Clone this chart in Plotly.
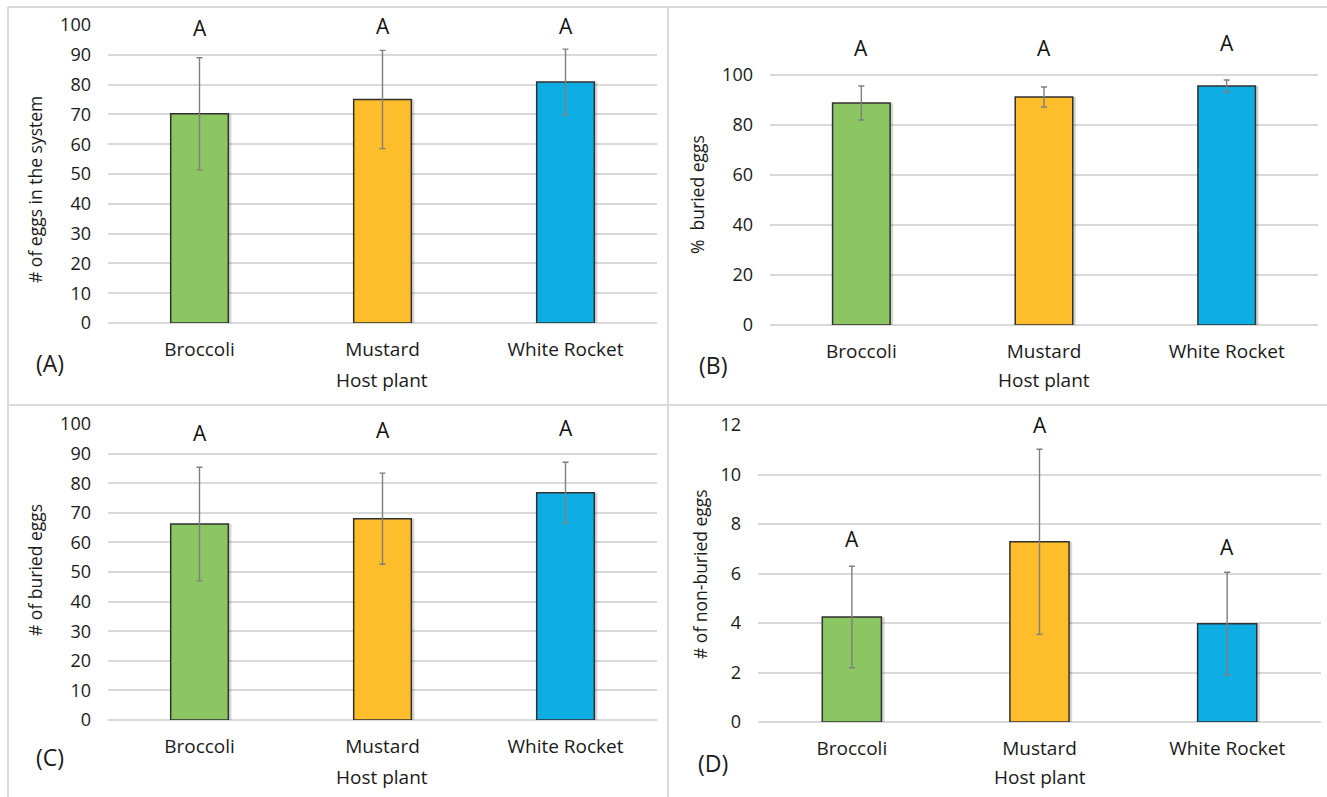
import plotly.graph_objects as go

W, H = 1327, 797

categories = ["Broccoli", "Mustard", "White Rocket"]
bar_colors = ["#8cc663", "#febd2a", "#0eaee4"]

eggs_total_mean = [70.2, 75.0, 80.9]
eggs_total_err = [18.8, 16.5, 11.0]
eggs_total_letters = ["A", "A", "A"]
eggs_total_letter_y = [99.0, 99.5, 99.8]

pct_buried_mean = [88.8, 91.2, 95.6]
pct_buried_err = [6.8, 4.0, 2.4]
pct_buried_letters = ["A", "A", "A"]
pct_buried_letter_y = [110.8, 110.8, 112.8]

buried_mean = [66.2, 68.0, 76.8]
buried_err = [19.2, 15.4, 10.3]
buried_letters = ["A", "A", "A"]
buried_letter_y = [97.0, 98.0, 98.6]

nonburied_mean = [4.24, 7.28, 3.97]
nonburied_err = [2.05, 3.74, 2.08]
nonburied_letters = ["A", "A", "A"]
nonburied_letter_y = [7.4, 12.0, 7.07]

FONT = "Open Sans"
TXT = "#1a1a1a"
BAR_W = 0.315


def px(x):
    return x / W


def py(y):
    return 1 - y / H


panels = [
    dict(n="", mean=eggs_total_mean, err=eggs_total_err, letters=eggs_total_letters,
         ly=eggs_total_letter_y, ymax=100, dtick=10, labelmax=100,
         ytitle="# of eggs in the system", tag="(A)",
         xd=(108, 657), yd=(323, 25), yt=(35, 190), tg=(50, 363), ht=380),
    dict(n="2", mean=pct_buried_mean, err=pct_buried_err, letters=pct_buried_letters,
         ly=pct_buried_letter_y, ymax=120, dtick=20, labelmax=100,
         ytitle="%  buried eggs", tag="(B)",
         xd=(770, 1318), yd=(325, 25), yt=(697, 195), tg=(713, 365), ht=380),
    dict(n="3", mean=buried_mean, err=buried_err, letters=buried_letters,
         ly=buried_letter_y, ymax=100, dtick=10, labelmax=100,
         ytitle="# of buried eggs", tag="(C)",
         xd=(108, 657), yd=(720, 424), yt=(35, 570), tg=(50, 757), ht=777),
    dict(n="4", mean=nonburied_mean, err=nonburied_err, letters=nonburied_letters,
         ly=nonburied_letter_y, ymax=12, dtick=2, labelmax=12,
         ytitle="# of non-buried eggs", tag="(D)",
         xd=(758, 1321), yd=(722, 425), yt=(700, 574), tg=(713, 763), ht=777),
]

fig = go.Figure()
layout = dict(
    width=W, height=H, margin=dict(l=0, r=0, t=0, b=0, pad=0, autoexpand=False),
    paper_bgcolor="white", plot_bgcolor="white", showlegend=False,
    font=dict(family=FONT, color=TXT), barmode="overlay",
)
annotations = []
shapes = []


def ann(x, y, text, size, xref="paper", yref="paper", angle=0, color=TXT):
    return dict(x=x, y=y, xref=xref, yref=yref, text=text, showarrow=False,
                xanchor="center", yanchor="middle", textangle=angle,
                font=dict(family=FONT, size=size, color=color))


for p in panels:
    n = p["n"]
    xa = "x" + n
    ya = "y" + n
    # soft shadow behind each bar
    fig.add_trace(go.Bar(
        x=categories, y=p["mean"], xaxis=xa, yaxis=ya,
        marker=dict(color="rgba(0,0,0,0.16)", line=dict(width=0)),
        width=BAR_W, offset=-BAR_W / 2 + 0.017, hoverinfo="skip",
    ))
    fig.add_trace(go.Bar(
        x=categories, y=p["mean"], xaxis=xa, yaxis=ya,
        marker=dict(color=bar_colors, line=dict(color="#303030", width=1.5)),
        error_y=dict(type="data", array=p["err"], color="#7f7f7f", thickness=1.4, width=3),
        width=BAR_W, offset=-BAR_W / 2,
    ))
    ticks = list(range(0, p["ymax"] + 1, p["dtick"]))
    ticktext = [str(t) if t <= p["labelmax"] else "" for t in ticks]
    layout["xaxis" + n] = dict(
        domain=[px(p["xd"][0]), px(p["xd"][1])], anchor=ya, automargin=False,
        range=[-0.5, 2.5], type="category", showgrid=False, showline=False,
        zeroline=False, ticks="", ticklabelstandoff=13,
        tickfont=dict(family=FONT, size=19, color=TXT), fixedrange=True,
    )
    layout["yaxis" + n] = dict(
        domain=[py(p["yd"][0]), py(p["yd"][1])], anchor=xa, automargin=False,
        range=[0, p["ymax"]], tickvals=ticks, ticktext=ticktext,
        showgrid=True, gridcolor="#d9d9d9", gridwidth=1.5,
        zeroline=True, zerolinecolor="#d9d9d9", zerolinewidth=1.5,
        showline=False, ticks="", ticklabelstandoff=16,
        tickfont=dict(family=FONT, size=18, color=TXT), fixedrange=True,
    )
    for c, t, yv in zip(categories, p["letters"], p["ly"]):
        annotations.append(ann(c, yv, t, 21, xref=xa, yref=ya, color="#111"))
    annotations.append(ann(px(p["yt"][0]), py(p["yt"][1]), p["ytitle"], 17.5, angle=-90))
    annotations.append(ann(px((p["xd"][0] + p["xd"][1]) / 2), py(p["ht"]), "Host plant", 19))
    annotations.append(ann(px(p["tg"][0]), py(p["tg"][1]), p["tag"], 23))

# panel frames
frame = dict(type="line", xref="paper", yref="paper", line=dict(color="#d9d9d9", width=2))
for (x0, y0, x1, y1) in [(8, 7, W, 7), (8, 7, 8, H), (668, 7, 668, H), (8, 405, W, 405)]:
    shapes.append(dict(frame, x0=px(x0), y0=py(y0), x1=px(x1), y1=py(y1)))

layout["annotations"] = annotations
layout["shapes"] = shapes
fig.update_layout(**layout)
fig.write_html("out.html", config={"displayModeBar": False},
               post_script="document.body.style.margin='0px';")
